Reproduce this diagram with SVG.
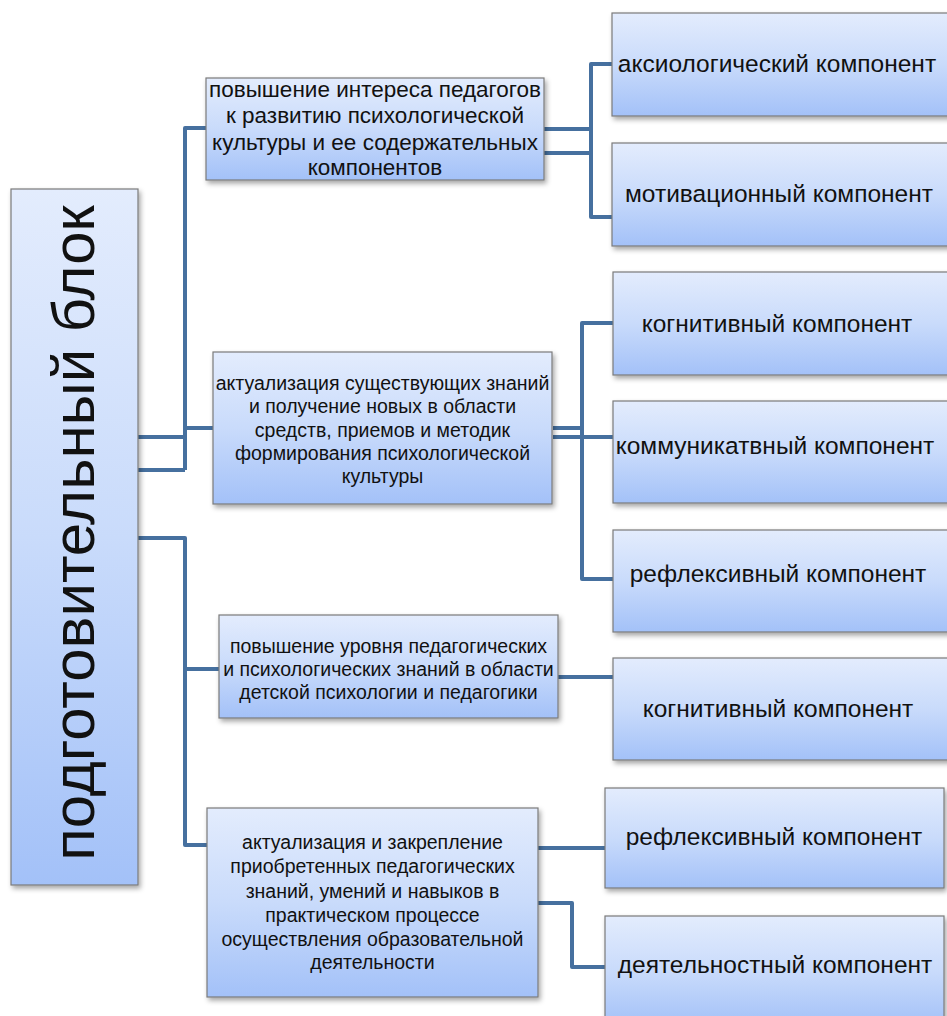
<svg xmlns="http://www.w3.org/2000/svg" width="947" height="1016" viewBox="0 0 947 1016">
<defs>
<linearGradient id="g" x1="0" y1="0" x2="0" y2="1">
<stop offset="0" stop-color="#e3ecfd"/>
<stop offset="0.5" stop-color="#c9dbfb"/>
<stop offset="1" stop-color="#a3c1f8"/>
</linearGradient>
<filter id="sh" x="-10%" y="-10%" width="125%" height="130%">
<feDropShadow dx="2" dy="3" stdDeviation="2.5" flood-color="#000" flood-opacity="0.35"/>
</filter>
<style>
.box{fill:url(#g);stroke:#7b7b7b;stroke-width:1.2;filter:url(#sh)}
.c{fill:none;stroke:#46709f;stroke-width:4;stroke-linejoin:round}
text{font-family:"Liberation Sans",Arial,sans-serif;fill:#111;text-anchor:middle}
.r{font-size:24.5px}
.m1{font-size:22.5px}
.m{font-size:19.5px}
.big{font-size:60px}
</style>
</defs>
<rect width="947" height="1016" fill="#fff"/>
<g id="connectors">
<path class="c" d="M138 437H185M138 470H185M185 470V128H206M185 428H213"/>
<path class="c" d="M138 538H185V845H207M185 669H219"/>
<path class="c" d="M544 129H591M544 153H591M612 64H591V217H612"/>
<path class="c" d="M553 428H582M553 437H613M613 323H582V579H613"/>
<path class="c" d="M558 677H613"/>
<path class="c" d="M538 848H605M538 903H572V967H605"/>
</g>
<g id="n-root">
<rect class="box" x="11" y="189" width="127" height="696"/>
<text class="big" transform="translate(94,533) rotate(-90)">подготовительный блок</text>
</g>
<g id="n-m1">
<rect class="box" x="206" y="78" width="338" height="102"/>
<text class="m1" x="375" y="97">повышение интереса педагогов</text>
<text class="m1" x="375" y="123">к развитию психологической</text>
<text class="m1" x="375" y="150">культуры и ее содержательных</text>
<text class="m1" x="375" y="175">компонентов</text>
</g>
<g id="n-m2">
<rect class="box" x="213" y="352" width="339" height="152"/>
<text class="m" x="382.5" y="390">актуализация существующих знаний</text>
<text class="m" x="382.5" y="413">и получение новых в области</text>
<text class="m" x="382.5" y="437">средств, приемов и методик</text>
<text class="m" x="382.5" y="460">формирования психологической</text>
<text class="m" x="382.5" y="483">культуры</text>
</g>
<g id="n-m3">
<rect class="box" x="219" y="615" width="339" height="103"/>
<text class="m" x="388.5" y="653">повышение уровня педагогических</text>
<text class="m" x="388.5" y="676">и психологических знаний в области</text>
<text class="m" x="388.5" y="699">детской психологии и педагогики</text>
</g>
<g id="n-m4">
<rect class="box" x="207" y="808" width="331" height="189"/>
<text class="m" x="372.5" y="849">актуализация и закрепление</text>
<text class="m" x="372.5" y="873">приобретенных педагогических</text>
<text class="m" x="372.5" y="898">знаний, умений и навыков в</text>
<text class="m" x="372.5" y="922">практическом процессе</text>
<text class="m" x="372.5" y="946">осуществления образовательной</text>
<text class="m" x="372.5" y="969">деятельности</text>
</g>
<g id="n-r1">
<rect class="box" x="612" y="13" width="340" height="103"/>
<text class="r" x="777" y="72">аксиологический компонент</text>
</g>
<g id="n-r2">
<rect class="box" x="612" y="143" width="340" height="103"/>
<text class="r" x="779" y="202">мотивационный компонент</text>
</g>
<g id="n-r3">
<rect class="box" x="613" y="272" width="340" height="103"/>
<text class="r" x="777" y="332">когнитивный компонент</text>
</g>
<g id="n-r4">
<rect class="box" x="613" y="401" width="340" height="102"/>
<text class="r" x="775" y="454">коммуникатвный компонент</text>
</g>
<g id="n-r5">
<rect class="box" x="613" y="530" width="340" height="102"/>
<text class="r" x="778" y="582">рефлексивный компонент</text>
</g>
<g id="n-r6">
<rect class="box" x="613" y="658" width="340" height="102"/>
<text class="r" x="778" y="717">когнитивный компонент</text>
</g>
<g id="n-r7">
<rect class="box" x="605" y="788" width="339" height="100"/>
<text class="r" x="774" y="845">рефлексивный компонент</text>
</g>
<g id="n-r8">
<rect class="box" x="605" y="916" width="339" height="110"/>
<text class="r" x="775" y="973">деятельностный компонент</text>
</g>
</svg>
